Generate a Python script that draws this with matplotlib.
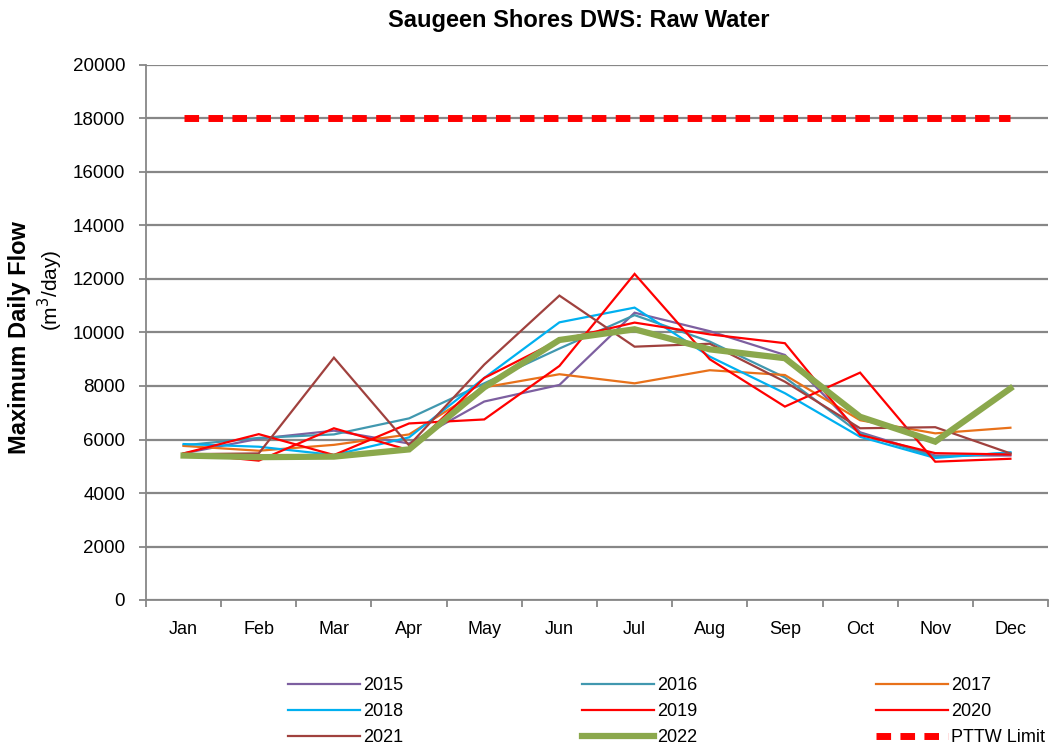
import matplotlib.pyplot as plt
import numpy as np

plt.rcParams['font.family'] = ['Liberation Sans', 'DejaVu Sans']

months = ['Jan', 'Feb', 'Mar', 'Apr', 'May', 'Jun', 'Jul', 'Aug', 'Sep', 'Oct', 'Nov', 'Dec']

# maximum daily flow per month (m3/day)
y2015 = [5480, 6030, 6330, 5850, 7420, 8040, 10740, 10050, 9160, 6270, 5400, 5400]
y2016 = [5780, 6060, 6190, 6790, 8100, 9400, 10650, 9660, 8320, 6230, 5350, 5500]
y2017 = [5760, 5580, 5800, 6190, 7950, 8440, 8100, 8590, 8410, 6720, 6230, 6440]
y2018 = [5830, 5730, 5420, 6080, 8300, 10380, 10930, 9100, 7730, 6100, 5310, 5520]
y2019 = [5480, 6200, 5420, 6600, 6750, 8750, 12190, 9000, 7230, 8500, 5170, 5280]
y2020 = [5480, 5210, 6420, 5600, 8300, 9720, 10370, 9930, 9600, 6170, 5490, 5440]
y2021 = [5450, 5480, 9060, 5780, 8800, 11380, 9470, 9580, 8160, 6420, 6460, 5480]
y2022 = [5400, 5340, 5360, 5630, 7950, 9720, 10120, 9370, 9040, 6850, 5920, 7910]
pttw = [18000] * 12

series = [
    ('2015', y2015, '#7D5FA0', 1.6),
    ('2016', y2016, '#4198AF', 1.6),
    ('2017', y2017, '#E8711A', 1.6),
    ('2018', y2018, '#00B0F0', 1.6),
    ('2019', y2019, '#FF0000', 1.6),
    ('2020', y2020, '#FF0000', 1.6),
    ('2021', y2021, '#A0413E', 1.6),
    ('2022', y2022, '#8BA84C', 4.5),
]

fig = plt.figure(figsize=(10.55, 7.47), dpi=100)
ax = fig.add_axes([146/1055, 1 - 600/747, (1048-146)/1055, (600-65)/747])

x = np.arange(len(months))
handles = []
for name, vals, col, lw in series:
    h, = ax.plot(x, vals, color=col, lw=lw, label=name, solid_joinstyle='miter')
    handles.append(h)
h, = ax.plot(x, pttw, color='#FF0000', lw=5, dashes=(2.1, 1.35), label='PTTW Limit')
handles.append(h)

ax.set_xlim(-0.5, 11.5)
ax.set_ylim(0, 20000)
ax.set_yticks(np.arange(0, 20001, 2000))
ax.set_xticks(x)
ax.set_xticklabels(months)
ax.set_xticks(np.arange(-0.5, 12, 1), minor=True)
ax.tick_params(axis='x', which='major', length=0, pad=15, labelsize=13)
ax.tick_params(axis='x', which='minor', length=5, width=1.3, color='#878787')
ax.tick_params(axis='y', length=5, width=1.3, color='#878787', pad=10, labelsize=13.5)
ax.grid(axis='y', color='#878787', lw=1.6)
ax.set_axisbelow(True)
for s in ['top', 'right']:
    ax.spines[s].set_visible(False)
for s in ['left', 'bottom']:
    ax.spines[s].set_color('#878787')
    ax.spines[s].set_linewidth(1.3)

fig.text(579/1055, 1 - 20/747, 'Saugeen Shores DWS: Raw Water', ha='center', va='center',
         fontsize=17, fontweight='bold')
fig.text(20/1055, 1 - 338/747, 'Maximum Daily Flow', rotation=90, ha='center', va='center',
         fontsize=17, fontweight='bold')
fig.text(50/1055, 1 - 290/747, '(m$^3$/day)', rotation=90, ha='center', va='center',
         fontsize=15)

# legend laid out row by row like the original
order = [0, 3, 6, 1, 4, 7, 2, 5, 8]
fig.legend([handles[i] for i in order], [handles[i].get_label() for i in order],
           ncol=3, loc='upper left', bbox_to_anchor=(288/1055, 1 - 677/747),
           frameon=False, fontsize=13, handlelength=4.0, handletextpad=0.15,
           columnspacing=9.9, labelspacing=0.5, borderpad=0, borderaxespad=0)

fig.savefig('out.png', dpi=100)
